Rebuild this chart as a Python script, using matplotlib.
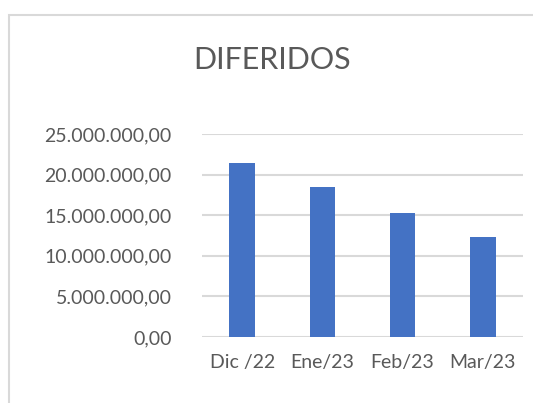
import matplotlib.pyplot as plt
from matplotlib.patches import Rectangle
from matplotlib.ticker import FuncFormatter

meses = ['Dic /22', 'Ene/23', 'Feb/23', 'Mar/23']
diferidos = [21470000, 18430000, 15310000, 12280000]
ticks = [0, 5000000, 10000000, 15000000, 20000000, 25000000]

plt.rcParams['font.family'] = ['Lato', 'DejaVu Sans']
texto = '#595959'

fig = plt.figure(figsize=(5.33, 4.03), dpi=100)
# marco del grafico (recortado a la derecha y abajo)
fig.patches.append(Rectangle((9 / 533, -0.1), 1.2, 1 - 15 / 403 + 0.1,
                             transform=fig.transFigure, fill=False,
                             edgecolor='#D9D9D9', linewidth=1.5))

ax = fig.add_axes([202 / 533, 1 - 337 / 403, 321 / 533, (337 - 134) / 403])
ax.bar(range(len(meses)), diferidos, width=0.32, color='#4472C4', zorder=3)
ax.set_xlim(-0.5, len(meses) - 0.5)
ax.set_ylim(0, 25000000)
ax.set_yticks(ticks)
ax.yaxis.set_major_formatter(FuncFormatter(
    lambda v, p: f'{v:,.2f}'.replace(',', 'X').replace('.', ',').replace('X', '.')))
ax.set_xticks(range(len(meses)))
ax.set_xticklabels(meses)
ax.grid(axis='y', color='#D9D9D9', linewidth=1.5, zorder=0)
for s in ax.spines.values():
    s.set_visible(False)
ax.tick_params(length=0, labelsize=14, colors=texto)
ax.tick_params(axis='y', pad=22)
ax.tick_params(axis='x', pad=12)

fig.text(272 / 533, 1 - 60 / 403, 'DIFERIDOS', ha='center', va='center',
         fontsize=22, color=texto)

fig.savefig('out.png', dpi=100)
